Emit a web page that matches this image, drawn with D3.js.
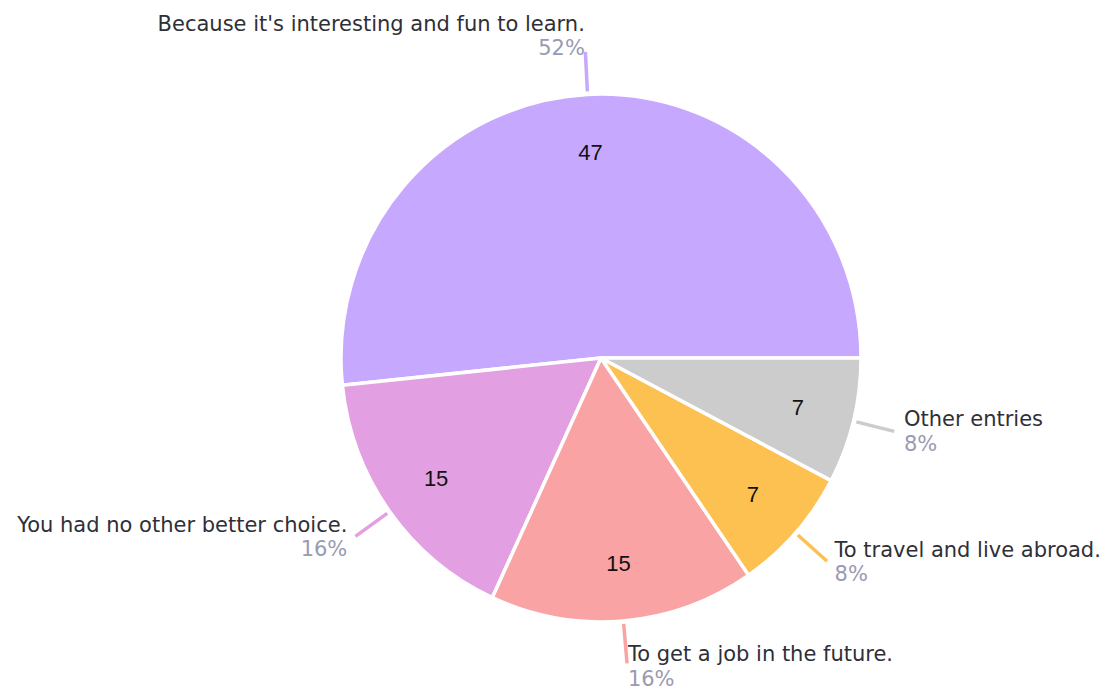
<!DOCTYPE html>
<html>
<head>
<meta charset="utf-8">
<script src="https://cdn.jsdelivr.net/npm/d3@7"></script>
<style>
  html, body { margin: 0; padding: 0; background: #ffffff; }
  svg { display: block; }
</style>
</head>
<body>
<svg id="chart" width="1105" height="690"></svg>
<script>
// Survey answers: why are you learning this language?
const categories = [
  "Because it's interesting and fun to learn.",
  "You had no other better choice.",
  "To get a job in the future.",
  "To travel and live abroad.",
  "Other entries"
];
const counts = [47, 15, 15, 7, 7];
const colors = ["#c6a8fe", "#e2a0e2", "#f9a3a5", "#fdc151", "#cccccc"];

const W = 1105, H = 690;
const cx = 601, cy = 358;
const R = 260;
const squash = 1.015; // slight vertical stretch of the disc

const svg = d3.select("#chart");

const total = d3.sum(counts);
const rows = categories.map((name, i) => ({ name, value: counts[i], color: colors[i] }));

// slices run counter-clockwise starting at 3 o'clock
const pie = d3.pie()
  .sort(null)
  .value(d => d.value)
  .startAngle(Math.PI / 2)
  .endAngle(Math.PI / 2 - 2 * Math.PI);

const arcs = pie(rows);
const arc = d3.arc().innerRadius(0).outerRadius(R);

const root = svg.append("g").attr("transform", `translate(${cx},${cy})`);
const disc = root.append("g").attr("transform", `scale(1,${squash})`);

disc.selectAll("path.slice")
  .data(arcs)
  .enter().append("path")
  .attr("class", "slice")
  .attr("d", arc)
  .attr("fill", d => d.data.color)
  .attr("stroke", "#ffffff")
  .attr("stroke-width", 3.5)
  .attr("stroke-linejoin", "round");

const mid = d => (d.startAngle + d.endAngle) / 2;
const pt = (a, r) => [Math.sin(a) * r, -Math.cos(a) * r * squash];

// counts inside the slices
root.selectAll("text.count")
  .data(arcs)
  .enter().append("text")
  .attr("class", "count")
  .attr("x", d => pt(mid(d), R * 0.78)[0])
  .attr("y", d => pt(mid(d), R * 0.78)[1] + 8)
  .attr("text-anchor", "middle")
  .attr("font-family", "'Liberation Sans', Arial, sans-serif")
  .attr("font-size", 22)
  .attr("fill", "#111111")
  .text(d => d.data.value);

// leader lines
root.selectAll("line.leader")
  .data(arcs)
  .enter().append("line")
  .attr("class", "leader")
  .attr("x1", d => pt(mid(d), R + 3)[0])
  .attr("y1", d => pt(mid(d), R + 3)[1])
  .attr("x2", d => pt(mid(d), R + 42)[0])
  .attr("y2", d => pt(mid(d), R + 42)[1])
  .attr("stroke", d => d.data.color)
  .attr("stroke-width", 3.5);

// outer labels: name with percentage underneath
root.selectAll("g.label")
  .data(arcs)
  .enter().append("g")
  .attr("class", "label")
  .each(function (d) {
    const a = mid(d);
    const [ex, ey] = pt(a, R + 42);
    const right = Math.sin(a);
    const up = Math.cos(a);
    const anchor = right >= 0 ? "start" : "end";
    const x = ex + Math.sign(right) * 10 * Math.abs(right);
    const off = up > 0 ? -5 - 16 * up : -5 + 3 * Math.pow(up, 4);
    const g = d3.select(this);
    g.append("text")
      .attr("x", x)
      .attr("y", ey + off)
      .attr("text-anchor", anchor)
      .attr("font-family", "'DejaVu Sans', sans-serif")
      .attr("font-size", 21)
      .attr("fill", "#2f2f38")
      .text(d.data.name);
    g.append("text")
      .attr("x", x)
      .attr("y", ey + off + 24.5)
      .attr("text-anchor", anchor)
      .attr("font-family", "'DejaVu Sans', sans-serif")
      .attr("font-size", 21)
      .attr("fill", "#9a9ab2")
      .text(Math.round(d.data.value / total * 100) + "%");
  });
</script>
</body>
</html>
